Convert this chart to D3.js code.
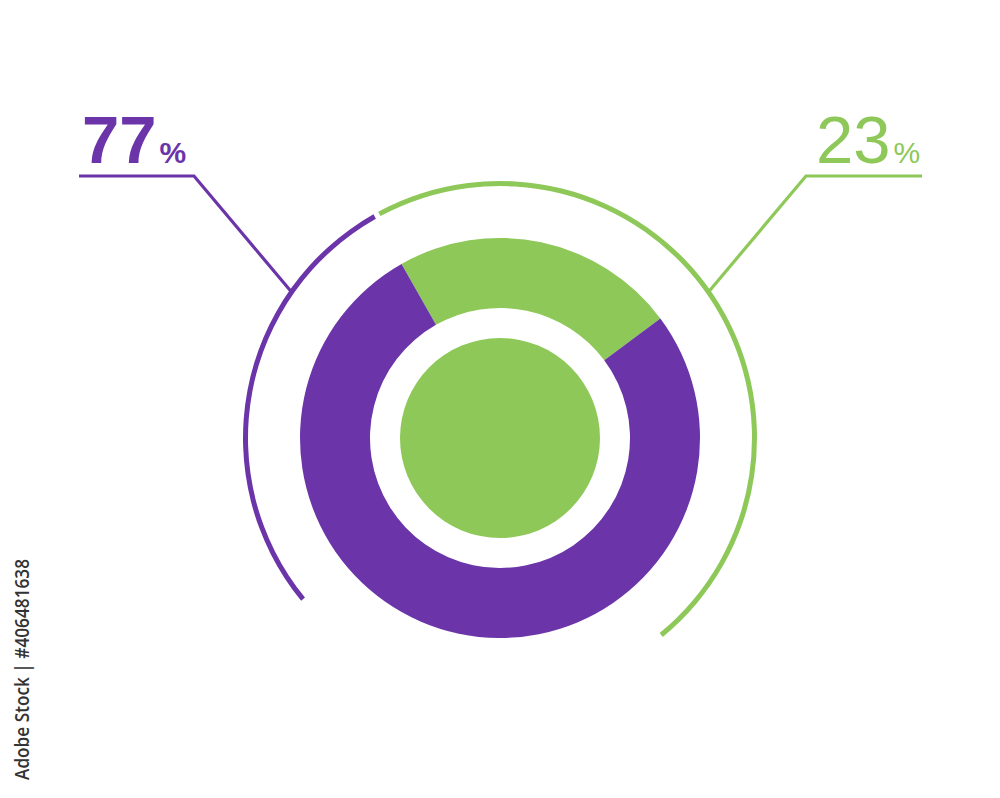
<!DOCTYPE html>
<html>
<head>
<meta charset="utf-8">
<script src="https://cdn.jsdelivr.net/npm/d3@7"></script>
<style>
  html, body { margin: 0; padding: 0; background: #ffffff; }
  svg { display: block; }
</style>
</head>
<body>
<svg id="chart" width="1000" height="798"></svg>
<script>
// ---- data ----
const categories = ["Green", "Purple"];
const values = [23, 77];
const colors = ["#8DC858", "#6B35A9"];
const labels = ["23", "77"];
const sideText = "Adobe Stock | #406481638";

// ---- layout ----
const W = 1000, H = 798;
const cx = 500, cy = 438;
const rOuter = 200, rInner = 130, rCore = 100, rRing = 254.5;
const deg = Math.PI / 180;
const start = -29.5 * deg;

const svg = d3.select("#chart");
const g = svg.append("g").attr("transform", `translate(${cx},${cy})`);

const pie = d3.pie().sort(null).value(d => d)
  .startAngle(start).endAngle(start + 2 * Math.PI);
const arcs = pie(values);

const arcGen = d3.arc().innerRadius(rInner).outerRadius(rOuter);
g.selectAll("path.slice").data(arcs).enter().append("path")
  .attr("class", "slice")
  .attr("d", arcGen)
  .attr("fill", (d, i) => colors[i]);

// center disc
g.append("circle").attr("r", rCore).attr("fill", colors[0]);

// outer thin arcs
const ringArc = d3.arc().innerRadius(rRing - 2.5).outerRadius(rRing + 2.5);
const ringSpans = [
  { a0: -28.3 * deg, a1: 140.7 * deg, c: colors[0] },
  { a0: -129.3 * deg, a1: -29.5 * deg, c: colors[1] }
];
g.selectAll("path.ring").data(ringSpans).enter().append("path")
  .attr("class", "ring")
  .attr("d", d => ringArc({ startAngle: d.a0, endAngle: d.a1 }))
  .attr("fill", d => d.c);

// leader lines
function pt(a, r) { return [cx + r * Math.sin(a), cy - r * Math.cos(a)]; }
const leaders = [
  { a: 55 * deg, corner: [806, 176], end: [922, 176], c: colors[0] },
  { a: -55 * deg, corner: [194, 176], end: [79, 176], c: colors[1] }
];
leaders.forEach(l => {
  const p = pt(l.a, rRing);
  svg.append("polyline")
    .attr("points", [p, l.corner, l.end].map(q => q.join(",")).join(" "))
    .attr("fill", "none")
    .attr("stroke", l.c)
    .attr("stroke-width", 3.2);
});

// labels
const labelPos = [
  { x: 816, y: 163, weight: 400 },
  { x: 82, y: 163, weight: 700 }
];
labels.forEach((t, i) => {
  const txt = svg.append("text")
    .attr("x", labelPos[i].x).attr("y", labelPos[i].y)
    .attr("fill", colors[i])
    .attr("font-family", "Liberation Sans, Arial, sans-serif")
    .attr("font-weight", labelPos[i].weight);
  txt.append("tspan").attr("font-size", 67).text(t);
  txt.append("tspan").attr("font-size", 30).attr("dx", 3).text("%");
});

// side text
svg.append("text")
  .attr("transform", "translate(29,780) rotate(-90)")
  .attr("font-family", "Open Sans, sans-serif")
  .attr("font-size", 20)
  .attr("font-weight", 600)
  .attr("textLength", 221)
  .attr("lengthAdjust", "spacingAndGlyphs")
  .attr("fill", "#333333")
  .text(sideText);
</script>
</body>
</html>
